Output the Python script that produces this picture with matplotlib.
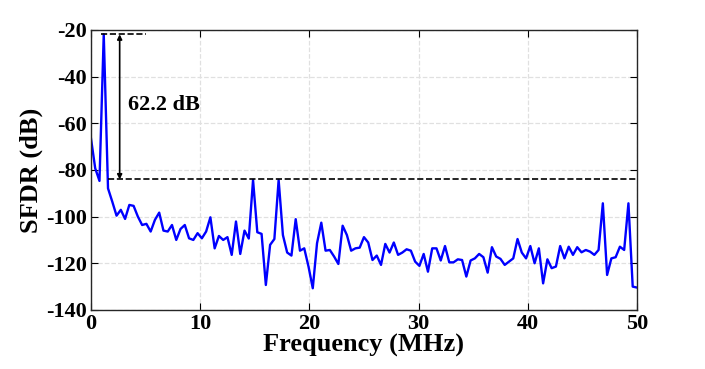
import numpy as np
import matplotlib
matplotlib.use('Agg')
import matplotlib.pyplot as plt

# frequency step of the spectrum (129 bins from 0 to 50 MHz)
freq_step = 50 / 128
sfdr = [
    -66.4, -79.3, -84.7, -21.9, -87.9, -93.6, -99.6, -97.1, -101.0, -95.0,
    -95.4, -100.0, -103.6, -103.1, -106.4, -101.4, -98.3, -106.0, -106.4, -103.6,
    -110.0, -105.3, -103.6, -109.3, -110.0, -107.1, -109.3, -106.4, -100.3, -113.6,
    -108.3, -110.0, -108.8, -116.4, -102.1, -116.0, -106.0, -109.4, -84.3, -106.7,
    -107.4, -129.3, -112.1, -109.6, -84.3, -107.9, -115.4, -116.7, -101.1, -114.6,
    -113.6, -121.4, -130.7, -111.4, -102.6, -114.6, -114.3, -117.1, -120.3, -103.9,
    -107.9, -114.6, -113.6, -113.3, -108.8, -111.1, -118.6, -116.7, -120.7, -111.7,
    -115.4, -111.1, -116.4, -115.4, -114.0, -114.6, -119.3, -121.1, -116.0, -123.6,
    -113.6, -113.6, -118.8, -112.6, -119.6, -119.6, -118.3, -118.6, -125.7, -118.8,
    -117.9, -116.0, -117.4, -124.0, -113.1, -117.1, -118.1, -120.7, -119.3, -117.9,
    -109.6, -115.4, -117.9, -112.6, -120.0, -113.6, -128.6, -118.3, -122.1, -121.4,
    -112.6, -117.9, -112.9, -116.4, -113.1, -115.3, -114.3, -115.0, -116.4, -114.3,
    -94.3, -125.0, -117.9, -117.4, -112.9, -114.3, -94.3, -130.0, -130.4,
]
freq = np.arange(len(sfdr)) * freq_step

peak_level = -21.9
spur_level = -84.1

plt.rcParams['font.family'] = 'Liberation Serif'
plt.rcParams['font.weight'] = 'bold'
plt.rcParams['axes.unicode_minus'] = False

fig = plt.figure(figsize=(7.05, 3.69), dpi=100)
ax = fig.add_axes([0.129, 0.160, 0.7745, 0.759])

ax.plot(freq, sfdr, color=(0, 0, 1), lw=1.7)

# annotation lines
ax.plot([0.9, 5.0], [peak_level, peak_level], 'k--', lw=1.2)
ax.plot([1.6, 50], [spur_level, spur_level], 'k--', lw=1.2)
ax.annotate('', xy=(2.63, peak_level), xytext=(2.63, spur_level),
            arrowprops=dict(arrowstyle='<|-|>', color='k', lw=1.2,
                            mutation_scale=7, shrinkA=0, shrinkB=0))
ax.text(3.4, -52, '62.2 dB', fontsize=16, fontweight='bold', va='center')

ax.set_xlim(0, 50)
ax.set_ylim(-140, -20)
ax.set_xticks([0, 10, 20, 30, 40, 50])
ax.set_yticks([-140, -120, -100, -80, -60, -40, -20])
ax.grid(True, ls='--', color='#e0e0e0', lw=0.9)
ax.tick_params(direction='in', top=True, right=True, labelsize=16, length=5, pad=3)
for s in ax.spines.values():
    s.set_linewidth(1.0)
    s.set_color('#262626')

ax.set_xlabel('Frequency (MHz)', fontsize=19, fontweight='bold', labelpad=0)
ax.set_ylabel('SFDR (dB)', fontsize=19, fontweight='bold', labelpad=2)

plt.savefig('out.png', dpi=100)
